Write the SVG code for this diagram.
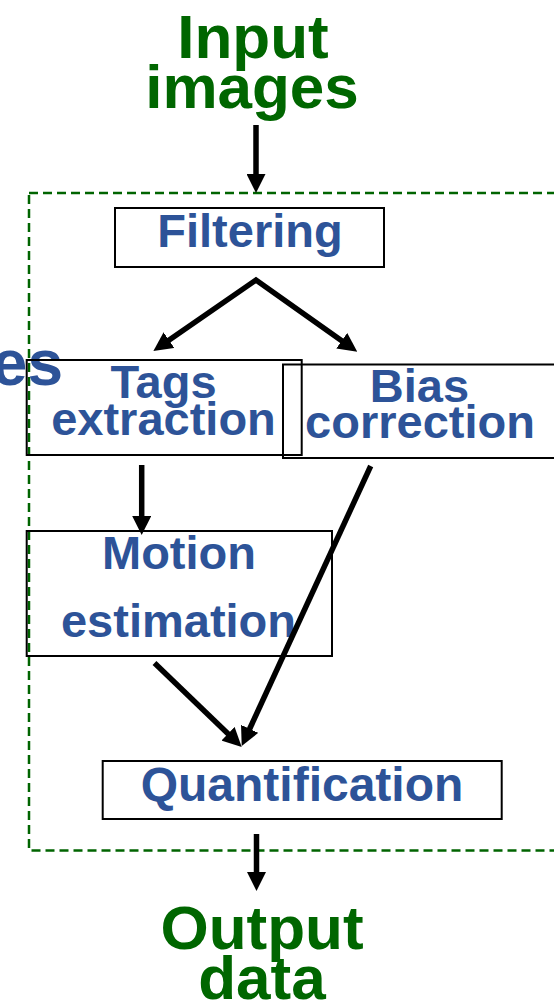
<svg xmlns="http://www.w3.org/2000/svg" width="554" height="1001" viewBox="0 0 554 1001">
  <style>
    .box { fill: none; stroke: #000; stroke-width: 2; }
    .blue { fill: #2d5398; font-family: "Liberation Sans", Arial, sans-serif; font-weight: bold; font-size: 47px; text-anchor: middle; }
    .green { fill: #006600; font-family: "Liberation Sans", Arial, sans-serif; font-weight: bold; font-size: 62px; text-anchor: middle; }
    .edge { fill: none; stroke: #000; stroke-width: 5.5; stroke-linejoin: miter; stroke-miterlimit: 10; }
    .frame { fill: none; stroke: #006400; stroke-width: 2.5; stroke-dasharray: 9 5; }
  </style>
  <defs>
    <!-- arrowhead: tip sits 10px beyond the path end -->
    <marker id="head" viewBox="0 0 19 19" markerUnits="userSpaceOnUse" markerWidth="19" markerHeight="19" refX="9" refY="9.5" orient="auto-start-reverse">
      <path d="M0,0 L19,9.5 L0,19 z" fill="#000"/>
    </marker>
  </defs>

  <rect width="554" height="1001" fill="#fff"/>

  <!-- processing frame -->
  <rect class="frame" x="29" y="193" width="545" height="657.5"/>

  <g id="input-label">
    <text class="green" x="253" y="58">Input</text>
    <text class="green" x="252" y="108">images</text>
  </g>

  <g id="filtering">
    <rect class="box" x="115" y="208" width="269" height="59"/>
    <text class="blue" x="250" y="247">Filtering</text>
  </g>

  <g id="side-label">
    <text class="blue" x="63" y="385" style="text-anchor:end;font-size:64px">es</text>
  </g>

  <g id="tags-extraction">
    <rect class="box" x="26.7" y="360" width="275" height="95"/>
    <text class="blue" x="163.5" y="398">Tags</text>
    <text class="blue" x="163.5" y="435">extraction</text>
  </g>

  <g id="bias-correction">
    <rect class="box" x="283" y="364.5" width="290" height="93.5"/>
    <text class="blue" x="419.5" y="402">Bias</text>
    <text class="blue" x="420" y="438">correction</text>
  </g>

  <g id="motion-estimation">
    <rect class="box" x="26.7" y="531" width="305.3" height="125"/>
    <text class="blue" x="179" y="569">Motion</text>
    <text class="blue" x="178.5" y="637">estimation</text>
  </g>

  <g id="quantification">
    <rect class="box" x="102.7" y="761" width="399" height="58"/>
    <text class="blue" x="302" y="800.5" style="font-size:48px">Quantification</text>
  </g>

  <g id="output-label">
    <text class="green" x="262" y="949">Output</text>
    <text class="green" x="262" y="999">data</text>
  </g>

  <g id="connectors">
    <path class="edge" d="M256,125 L256,183" marker-end="url(#head)"/>
    <path class="edge" d="M161.6,345.3 L256,280 L349.1,345.9" marker-start="url(#head)" marker-end="url(#head)"/>
    <path class="edge" d="M141.7,465 L141.7,525" marker-end="url(#head)"/>
    <path class="edge" d="M154.5,663 L234.5,740" marker-end="url(#head)"/>
    <path class="edge" d="M370.7,466 L245.9,737" marker-end="url(#head)"/>
    <path class="edge" d="M256.5,834 L256.5,881" marker-end="url(#head)"/>
  </g>
</svg>
